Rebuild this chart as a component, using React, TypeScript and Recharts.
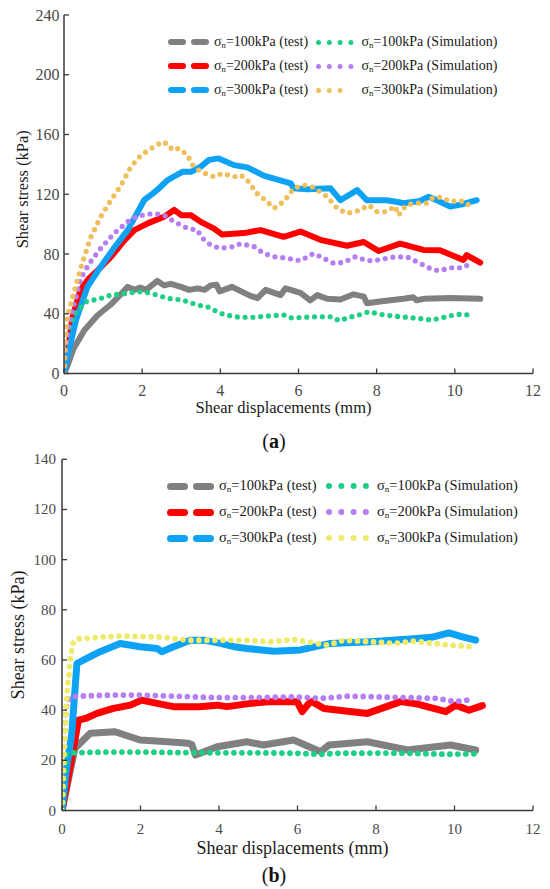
import { LineChart, Line, XAxis, YAxis, Legend } from 'recharts'

type Pt = [number, number]

// shear displacement (mm), shear stress (kPa) – chart (a)
const grayTestA: Pt[] = [
  [0, 0], [0.1, 6], [0.25, 17], [0.52, 29], [0.86, 39], [1.19, 46], [1.45, 53], [1.63, 58], [1.8, 56],
  [1.95, 57.5], [2.1, 56], [2.39, 62], [2.56, 59], [2.73, 60], [2.99, 58], [3.2, 56], [3.42, 57], [3.6, 56],
  [3.75, 59], [3.9, 59.5], [3.98, 55], [4.3, 58], [4.77, 52], [4.95, 50.5], [5.16, 56], [5.54, 52.5],
  [5.67, 57], [6.05, 54], [6.3, 49], [6.48, 52.5], [6.73, 50], [7.07, 49.5], [7.41, 53], [7.67, 51.5],
  [7.75, 47], [8.18, 48.5], [8.69, 50], [8.94, 51], [9.02, 49], [9.2, 50], [9.88, 50.5], [10.65, 50],
]
const redTestA: Pt[] = [
  [0, 0], [0.09, 14], [0.22, 38], [0.42, 56], [0.65, 64], [0.86, 69], [1.2, 78], [1.54, 89], [1.8, 96],
  [2.14, 100.5], [2.56, 105], [2.82, 109.5], [3.0, 106], [3.25, 106], [3.5, 101.5], [3.84, 97], [4.05, 93],
  [4.6, 94], [5.03, 96], [5.62, 91.5], [6.05, 95], [6.56, 89.5], [7.24, 85.5], [7.67, 88], [8.05, 82],
  [8.6, 87], [9.2, 82.7], [9.62, 82.5], [10.22, 76], [10.3, 79.3], [10.65, 74.2],
]
const blueTestA: Pt[] = [
  [0, 0], [0.1, 13], [0.31, 36], [0.6, 58], [0.94, 71.5], [1.28, 84], [1.63, 96], [2.05, 116], [2.39, 123],
  [2.65, 129.5], [3.03, 135], [3.25, 135], [3.5, 138.5], [3.71, 143], [3.96, 144], [4.35, 139.5], [4.69, 138],
  [5.11, 132.5], [5.8, 127.3], [5.88, 124], [6.22, 123.3], [6.82, 124], [7.07, 116], [7.5, 122.8], [7.75, 116],
  [8.25, 116], [8.5, 115], [8.69, 114], [9.11, 115.5], [9.33, 118.4], [9.54, 116], [9.88, 111.7],
  [10.22, 113.5], [10.56, 116],
]
const greenSimA: Pt[] = [
  [0, 0], [0.03, 13], [0.08, 25], [0.14, 31], [0.28, 40], [0.56, 48], [0.94, 50.3], [1.2, 52.5], [1.6, 53.6],
  [1.88, 54.7], [2.05, 54.7], [2.39, 52.5], [2.65, 50.3], [3.03, 49.2], [3.42, 45.8], [3.67, 44.7], [4.0, 40.3],
  [4.35, 38], [4.77, 37.5], [5.2, 38.5], [5.62, 39.2], [5.84, 37], [6.05, 37.5], [6.48, 38], [6.86, 38],
  [7.03, 35.4], [7.33, 37.8], [7.63, 39.8], [7.8, 41.4], [8.18, 39.2], [8.6, 38], [9.03, 37], [9.41, 35.8],
  [9.62, 37], [9.97, 39.2], [10.22, 39.8], [10.43, 38.5],
]
const purpleSimA: Pt[] = [
  [0, 0], [0.05, 18], [0.12, 33], [0.31, 51.4], [0.43, 63.7], [0.65, 73.8], [0.94, 83.8], [1.28, 93.8],
  [1.63, 101.6], [1.88, 105.4], [2.3, 107.2], [2.56, 106], [2.82, 101.6], [3.16, 97.2], [3.42, 96], [3.5, 91.6],
  [3.75, 86], [4.0, 83.8], [4.35, 85], [4.52, 87], [4.86, 85], [5.11, 80.4], [5.37, 78.2], [5.71, 77.2],
  [6.05, 75.5], [6.39, 80.4], [6.65, 77], [6.9, 73.8], [7.16, 74.4], [7.46, 78.2], [7.75, 75.5], [8.09, 76.1],
  [8.35, 77.8], [8.77, 78.2], [9.11, 73.8], [9.45, 69.3], [9.62, 68.9], [9.88, 70.8], [10.22, 70.8], [10.39, 73.8],
]
const orangeSimA: Pt[] = [
  [0, 0], [0.02, 16], [0.05, 30], [0.1, 40], [0.18, 47], [0.26, 54.8], [0.39, 67], [0.52, 78.2], [0.69, 91.6],
  [0.94, 105], [1.2, 116], [1.46, 126], [1.71, 138.4], [1.97, 146.2], [2.3, 151.8], [2.52, 155.2], [2.69, 153],
  [2.77, 149.6], [2.94, 150.7], [3.16, 146.2], [3.29, 139.6], [3.5, 135], [3.84, 131.7], [4.05, 134],
  [4.35, 131.7], [4.52, 132.9], [4.69, 129.5], [4.94, 120.5], [5.16, 116], [5.37, 110.6], [5.62, 115],
  [5.88, 124], [6.13, 126.2], [6.35, 125], [6.48, 122.8], [6.73, 118.4], [6.99, 110.6], [7.24, 107.2],
  [7.58, 109.4], [7.8, 112.8], [8.01, 108.3], [8.26, 108.3], [8.47, 112], [8.56, 106], [8.77, 113], [9.03, 114],
  [9.28, 114], [9.45, 118], [9.67, 118], [9.88, 115], [10.13, 116], [10.3, 113], [10.52, 113.5],
]

// chart (b)
const grayTestB: Pt[] = [
  [0, 0], [0.33, 24.8], [0.5, 27.4], [0.72, 30.8], [1.35, 31.4], [1.99, 28.1], [2.6, 27.5], [3.22, 26.8],
  [3.31, 26.2], [3.4, 22.1], [3.52, 22.8], [3.95, 25.4], [4.71, 27.4], [5.13, 26.1], [5.9, 28.1], [6.59, 23.4],
  [6.8, 26.1], [7.78, 27.4], [8.8, 24.1], [9.9, 26.1], [10.54, 24.1],
]
const redTestB: Pt[] = [
  [0, 0], [0.42, 36], [0.6, 36.7], [0.89, 38.7], [1.31, 40.7], [1.74, 42], [2.03, 44], [2.42, 42.7],
  [2.84, 41.4], [3.5, 41.4], [3.95, 42], [4.2, 41.4], [4.8, 42.7], [5.31, 43.4], [5.99, 43.4], [6.12, 39.4],
  [6.29, 42.7], [6.37, 43.4], [6.67, 40.7], [7.78, 38.7], [8.63, 43.4], [9.06, 42.4], [9.78, 39.4],
  [10.03, 42], [10.37, 40], [10.71, 41.8],
]
const blueTestB: Pt[] = [
  [0, 0], [0.1, 15], [0.25, 31], [0.38, 58.6], [0.63, 60.6], [0.97, 63.3], [1.48, 66.6], [1.99, 65.3],
  [2.42, 64.6], [2.54, 63.3], [2.84, 65.3], [3.27, 67.9], [3.61, 67.9], [4.04, 66.6], [4.38, 65.3],
  [4.71, 64.6], [5.4, 63.5], [6.08, 64], [6.84, 66.6], [7.86, 67.3], [9.04, 68.6], [9.46, 69.2], [9.86, 70.8],
  [10.2, 69.2], [10.54, 67.9],
]
const greenSimB: Pt[] = [
  [0, 0], [0.04, 11], [0.12, 22.5], [0.3, 23], [1.0, 23.3], [2.0, 23.3], [3.0, 23.1], [4.0, 23], [5.0, 23],
  [6.0, 22.8], [6.6, 22.4], [7.0, 22.8], [8.0, 22.9], [9.0, 22.8], [9.8, 22.4], [10.5, 22.6],
]
const purpleSimB: Pt[] = [
  [0, 0], [0.04, 20], [0.1, 39.4], [0.13, 43], [0.2, 45.3], [0.46, 45.6], [1.2, 46], [2.0, 46], [2.8, 45.6],
  [3.95, 45], [5.0, 45], [5.9, 45.3], [6.6, 44.7], [7.3, 45.6], [8.72, 45], [9.57, 44.7], [10.0, 43.4], [10.5, 44.3],
]
const yellowSimB: Pt[] = [
  [0, 0], [0.02, 7], [0.04, 18], [0.07, 27], [0.1, 40], [0.14, 49.3], [0.18, 54], [0.2, 59.3], [0.25, 64],
  [0.29, 67.3], [0.46, 68.6], [0.63, 68.6], [1.0, 69.2], [1.5, 69.5], [2.5, 69.2], [3.2, 67.9], [3.95, 67.9],
  [4.7, 67.9], [5.31, 67.3], [5.9, 68.2], [6.76, 65.9], [7.18, 67.9], [7.86, 67.3], [8.46, 66.6], [8.97, 67.5],
  [9.48, 66.6], [9.9, 65.9], [10.41, 65.3], [10.5, 66.6],
]

const xTicks = [0, 2, 4, 6, 8, 10, 12]
const yTicksA = [0, 40, 80, 120, 160, 200, 240]
const yTicksB = [0, 20, 40, 60, 80, 100, 120, 140]
const loads = ['100', '200', '300']

const FONT = "'Liberation Serif', 'DejaVu Serif', serif"
const AXIS = '#3a3a3a'
const TICK = '#4a4a4a'

const toPts = (arr: Pt[]) => arr.map(([x, y]) => ({ x, y }))

type Series = { name: string; data: Pt[]; color: string; sim: boolean }

const seriesA: Series[] = [
  { name: 'test100', data: grayTestA, color: '#808080', sim: false },
  { name: 'test200', data: redTestA, color: '#ff0000', sim: false },
  { name: 'test300', data: blueTestA, color: '#0ea2f4', sim: false },
  { name: 'sim100', data: greenSimA, color: '#1ccf86', sim: true },
  { name: 'sim200', data: purpleSimA, color: '#b57ef3', sim: true },
  { name: 'sim300', data: orangeSimA, color: '#efbf5c', sim: true },
]
const seriesB: Series[] = [
  { name: 'test100', data: grayTestB, color: '#808080', sim: false },
  { name: 'test200', data: redTestB, color: '#ff0000', sim: false },
  { name: 'test300', data: blueTestB, color: '#0ea2f4', sim: false },
  { name: 'sim100', data: greenSimB, color: '#1ccf86', sim: true },
  { name: 'sim200', data: purpleSimB, color: '#b57ef3', sim: true },
  { name: 'sim300', data: yellowSimB, color: '#efea6a', sim: true },
]

type Cfg = {
  series: Series[]
  yMax: number
  yTicks: number[]
  height: number
  marginTop: number
  marginBottom: number
  yAxisWidth: number
  xAxisHeight: number
  tickFont: number
  tickDy: number
  tickGap: number
  titleFont: number
  xTitleDx: number
  xTitleY: number
  yTitleX: number
  yTitleDy: number
  lineW: number
  dotW: number
  dotGap: number
  legend: { top: number; left: number; font: number; row: number; dash: number; dashH: number; dot: number; dotStep: number; simDots: number[]; testW: number }
}

const cfgA: Cfg = {
  series: seriesA, yMax: 240, yTicks: yTicksA, height: 430, marginTop: 15, marginBottom: 14.5,
  yAxisWidth: 64, xAxisHeight: 42, tickFont: 16, tickDy: 16.5, tickGap: 4.5, titleFont: 16.5,
  xTitleDx: -15, xTitleY: 407.5, yTitleX: 22, yTitleDy: -5, lineW: 6, dotW: 5.2, dotGap: 7.8,
  legend: { top: 30, left: 168, font: 14, row: 24, dash: 18, dashH: 6, dot: 5, dotStep: 10.8, simDots: [4, 4, 3], testW: 102 },
}
const cfgB: Cfg = {
  series: seriesB, yMax: 140, yTicks: yTicksB, height: 420, marginTop: 14.3, marginBottom: 9.5,
  yAxisWidth: 62, xAxisHeight: 45, tickFont: 15, tickDy: 18.5, tickGap: 6, titleFont: 18,
  xTitleDx: -5, xTitleY: 848 - 445, yTitleX: 18.5, yTitleDy: 0, lineW: 7, dotW: 5.8, dotGap: 8,
  legend: { top: 28, left: 167, font: 14.5, row: 26, dash: 21, dashH: 7, dot: 6, dotStep: 12.3, simDots: [4, 4, 4], testW: 107 },
}

function renderLegend(cfg: Cfg) {
  const L = cfg.legend
  const tests = cfg.series.filter((s) => !s.sim)
  const sims = cfg.series.filter((s) => s.sim)
  const label = (load: string, kind: string) => (
    <span>
      σ<sub style={{ fontSize: '0.62em', verticalAlign: '-0.25em' }}>n</sub>={load}kPa ({kind})
    </span>
  )
  return () => (
    <div style={{ fontFamily: FONT, fontSize: L.font, color: '#1a1a1a', lineHeight: 1 }}>
      {loads.map((load, i) => (
        <div key={load} style={{ display: 'flex', alignItems: 'center', height: L.row, whiteSpace: 'nowrap' }}>
          <svg width={L.dash * 2 + 5} height={L.dashH} style={{ marginRight: 5 }}>
            <rect x={0} y={0} width={L.dash} height={L.dashH} rx={L.dashH / 2} fill={tests[i].color} />
            <rect x={L.dash + 5} y={0} width={L.dash} height={L.dashH} rx={L.dashH / 2} fill={tests[i].color} />
          </svg>
          <div style={{ width: L.testW }}>{label(load, 'test')}</div>
          <svg width={L.dotStep * 3 + L.dot + 2} height={L.dot} style={{ marginRight: 6 }}>
            {Array.from({ length: L.simDots[i] }).map((_, k) => (
              <circle key={k} cx={L.dot / 2 + k * L.dotStep} cy={L.dot / 2} r={L.dot / 2} fill={sims[i].color} />
            ))}
          </svg>
          {label(load, 'Simulation')}
        </div>
      ))}
    </div>
  )
}

function Panel({ cfg }: { cfg: Cfg }) {
  const txt = { fontFamily: FONT }
  const XTick = (p: any) => (
    <g>
      <line x1={p.x} y1={p.y} x2={p.x} y2={p.y - 5} stroke={AXIS} strokeWidth={1.3} />
      <text x={p.x} y={p.y + cfg.tickDy} textAnchor="middle" dominantBaseline="central" fill={TICK}
        fontSize={cfg.tickFont} style={txt}>{p.payload.value}</text>
    </g>
  )
  const YTick = (p: any) => (
    <g>
      <line x1={p.x} y1={p.y} x2={p.x + 5} y2={p.y} stroke={AXIS} strokeWidth={1.3} />
      <text x={p.x - cfg.tickGap} y={p.y} textAnchor="end" dominantBaseline="central" fill={TICK}
        fontSize={cfg.tickFont} style={txt}>{p.payload.value}</text>
    </g>
  )
  const xTitle = (p: any) => {
    const vb = p.viewBox
    return (
      <text x={vb.x + vb.width / 2 + cfg.xTitleDx} y={cfg.xTitleY} textAnchor="middle" dominantBaseline="central"
        fill="#1a1a1a" fontSize={cfg.titleFont} style={txt}>Shear displacements (mm)</text>
    )
  }
  const yTitle = (p: any) => {
    const vb = p.viewBox
    const cy = vb.y + vb.height / 2 + cfg.yTitleDy
    return (
      <text x={cfg.yTitleX} y={cy} transform={`rotate(-90 ${cfg.yTitleX} ${cy})`} textAnchor="middle"
        dominantBaseline="central" fill="#1a1a1a" fontSize={cfg.titleFont} style={txt}>Shear stress (kPa)</text>
    )
  }
  return (
    <LineChart width={550} height={cfg.height} style={txt}
      margin={{ top: cfg.marginTop, right: 17, bottom: cfg.marginBottom, left: 0 }}>
      <XAxis type="number" dataKey="x" domain={[0, 12]} ticks={xTicks} interval={0} tickSize={0} tickMargin={0}
        tickLine={false} tick={XTick} height={cfg.xAxisHeight} axisLine={{ stroke: AXIS, strokeWidth: 1.5 }}
        label={{ content: xTitle }} allowDataOverflow />
      <YAxis type="number" domain={[0, cfg.yMax]} ticks={cfg.yTicks} interval={0} tickSize={0} tickMargin={0}
        tickLine={false} tick={YTick} width={cfg.yAxisWidth} axisLine={{ stroke: AXIS, strokeWidth: 1.5 }}
        label={{ content: yTitle }} allowDataOverflow />
      <Legend layout="vertical" align="center" verticalAlign="middle" content={renderLegend(cfg)}
        wrapperStyle={{ top: cfg.legend.top, left: cfg.legend.left, width: 380 }} />
      {cfg.series.map((s) =>
        s.sim ? (
          <Line key={s.name} data={toPts(s.data)} dataKey="y" type="linear" stroke={s.color}
            strokeWidth={cfg.dotW} strokeDasharray={`0 ${cfg.dotGap}`} strokeLinecap="round" dot={false}
            activeDot={false} isAnimationActive={false} legendType="none" />
        ) : (
          <Line key={s.name} data={toPts(s.data)} dataKey="y" type="linear" stroke={s.color}
            strokeWidth={cfg.lineW} strokeLinejoin="round" strokeLinecap="round" dot={false}
            activeDot={false} isAnimationActive={false} legendType="none" />
        ),
      )}
    </LineChart>
  )
}

const caption = (letter: string, top: number) => (
  <div style={{ position: 'absolute', top, left: 0, width: 548, textAlign: 'center', fontFamily: FONT,
    fontSize: 20, color: '#111', lineHeight: '24px' }}>
    (<b>{letter}</b>)
  </div>
)

export default function App() {
  return (
    <div style={{ position: 'absolute', left: 0, top: 0, width: 550, height: 889, background: '#fff', fontFamily: FONT }}>
      <div style={{ position: 'absolute', left: 0, top: 0 }}>
        <Panel cfg={cfgA} />
      </div>
      {caption('a', 429)}
      <div style={{ position: 'absolute', left: 0, top: 445 }}>
        <Panel cfg={cfgB} />
      </div>
      {caption('b', 863)}
    </div>
  )
}
